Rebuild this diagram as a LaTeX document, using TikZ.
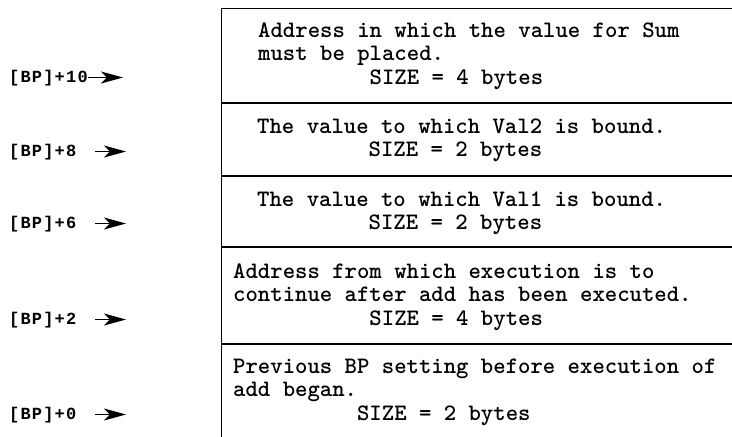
\documentclass[tikz,border=0pt]{standalone}
\usepackage{fontspec}
\newfontfamily\lblfont[LetterSpace=7]{Liberation Mono}
\usetikzlibrary{arrows.meta}
\begin{document}
\begin{tikzpicture}[x=1pt,y=-1pt,
  rule/.style={line width=1.8pt, line cap=butt},
  txt/.style={anchor=base west, inner sep=0pt, font=\ttfamily\bfseries\fontsize{23.6}{23.3}\selectfont},
  lbl/.style={anchor=base west, inner sep=0pt, font=\lblfont\bfseries\fontsize{17}{19}\selectfont},
  ptr/.style={line width=1.3pt, -{Stealth[length=22pt,width=12pt,inset=6pt]}}]
\useasboundingbox[fill=white] (0,0) rectangle (732,437);
% frame
\draw[rule] (221.5,437) -- (221.5,8.5) -- (732,8.5);
\draw[rule] (221.5,103) -- (732,103);
\draw[rule] (221.5,176) -- (732,176);
\draw[rule] (221.5,247) -- (732,247);
\draw[rule] (221.5,344) -- (732,344);
% box texts
\node[txt] (b1) at (258,37.5) {\begin{tabular}[t]{@{}l@{}}Address in which the value for Sum\\must be placed.\\\phantom{000000000}SIZE = 4 bytes\end{tabular}};
\node[txt] (b2) at (257,133.5) {\begin{tabular}[t]{@{}l@{}}The value to which Val2 is bound.\\\phantom{000000000}SIZE = 2 bytes\end{tabular}};
\node[txt] (b3) at (257,206) {\begin{tabular}[t]{@{}l@{}}The value to which Val1 is bound.\\\phantom{000000000}SIZE = 2 bytes\end{tabular}};
\node[txt] (b4) at (233,278.5) {\begin{tabular}[t]{@{}l@{}}Address from which execution is to\\continue after add has been executed.\\\phantom{00000000000}SIZE = 4 bytes\end{tabular}};
\node[txt] (b5) at (233,373.5) {\begin{tabular}[t]{@{}l@{}}Previous BP setting before execution of\\add began.\\\phantom{0000000000}SIZE = 2 bytes\end{tabular}};
% labels
\node[lbl] (l10) at (9,82) {[BP]+10};
\node[lbl] (l8) at (9,156) {[BP]+8};
\node[lbl] (l6) at (9,228) {[BP]+6};
\node[lbl] (l2) at (9,324) {[BP]+2};
\node[lbl] (l0) at (9,419) {[BP]+0};
% arrows
\coordinate (t10) at (88,77.5);  \coordinate (h10) at (123,77.5);
\coordinate (t8) at (95,151.5);  \coordinate (h8) at (126,151.5);
\coordinate (t6) at (95,223.5);  \coordinate (h6) at (126,223.5);
\coordinate (t2) at (95,319.5);  \coordinate (h2) at (126,319.5);
\coordinate (t0) at (95,414.5);  \coordinate (h0) at (126,414.5);
\draw[ptr] (t10) -- (h10);
\draw[ptr] (t8) -- (h8);
\draw[ptr] (t6) -- (h6);
\draw[ptr] (t2) -- (h2);
\draw[ptr] (t0) -- (h0);
\end{tikzpicture}
\end{document}
